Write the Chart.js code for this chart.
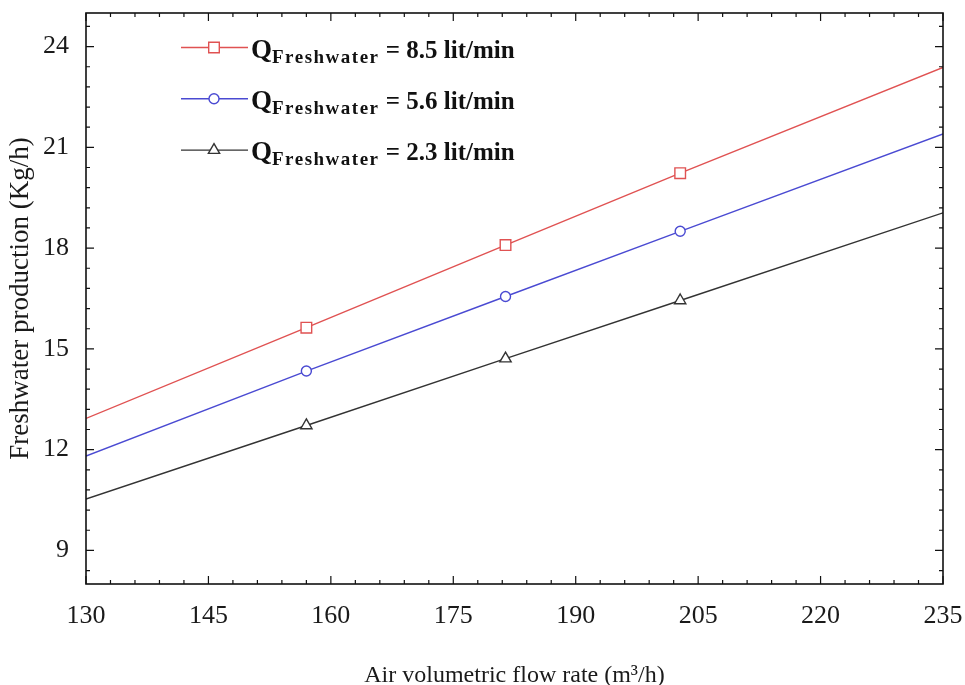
<!DOCTYPE html>
<html>
<head>
<meta charset="utf-8">
<title>Freshwater production vs air flow rate</title>
<script src="https://cdn.jsdelivr.net/npm/chart.js@4.4.1/dist/chart.umd.min.js"></script>
<style>
  html, body { margin: 0; padding: 0; background: #fff; }
</style>
</head>
<body>
<canvas id="chart" width="965" height="685"></canvas>
<script>
// air flow (m3/h) where the lines are sampled; markers sit on the middle three
const airFlow = [130, 157, 181.4, 202.8, 235];
const prod85 = [12.93, 15.63, 18.09, 20.23, 23.38];
const prod56 = [11.81, 14.34, 16.56, 18.50, 21.40];
const prod23 = [10.53, 12.72, 14.71, 16.44, 19.05];
const seriesLabels = ['8.5 lit/min', '5.6 lit/min', '2.3 lit/min'];
const xTicks = [130, 145, 160, 175, 190, 205, 220, 235];
const yTicks = [9, 12, 15, 18, 21, 24];

const serif = "'Liberation Serif', 'Times New Roman', serif";
const colors = ['#e05252', '#4a4ad2', '#333333'];
const markers = [['rect', 7.5], ['circle', 5], ['triangle', 6.5]];

function series(values, i) {
  const last = values.length - 1;
  return {
    label: seriesLabels[i],
    data: airFlow.map((x, k) => ({ x, y: values[k] })),
    borderColor: colors[i],
    borderWidth: 1.4,
    backgroundColor: '#fff',
    pointStyle: markers[i][0],
    pointRadius: values.map((v, k) => (k === 0 || k === last) ? 0 : markers[i][1]),
    pointBorderWidth: 1.4,
    pointBackgroundColor: '#fff',
    tension: 0
  };
}

// drop the extra room Chart.js keeps for edge tick labels
function noEdgePadding(s) {
  s.paddingLeft = s.paddingRight = s.paddingTop = s.paddingBottom = 0;
}

// box around the plot with inward ticks on all four sides
const frame = {
  id: 'frame',
  afterDatasetsDraw(chart) {
    const { ctx, chartArea: a, scales: { x, y } } = chart;
    ctx.save();
    ctx.strokeStyle = '#111';
    ctx.lineWidth = 1.2;
    ctx.beginPath();
    for (let k = 0; k <= 35; k++) {
      const px = x.getPixelForValue(130 + 3 * k);
      const len = k % 5 === 0 ? 8 : 4;
      ctx.moveTo(px, a.bottom); ctx.lineTo(px, a.bottom - len);
      ctx.moveTo(px, a.top); ctx.lineTo(px, a.top + len);
    }
    for (let k = -1; k <= 26; k++) {
      const py = y.getPixelForValue(9 + 0.6 * k);
      const len = k % 5 === 0 ? 8 : 4;
      ctx.moveTo(a.left, py); ctx.lineTo(a.left + len, py);
      ctx.moveTo(a.right, py); ctx.lineTo(a.right - len, py);
    }
    ctx.stroke();
    ctx.lineWidth = 1.6;
    ctx.strokeRect(a.left, a.top, a.right - a.left, a.bottom - a.top);
    ctx.restore();
  }
};

// legend with the subscripted Q label
const legendBox = {
  id: 'legendBox',
  afterDraw(chart) {
    const { ctx } = chart;
    chart.data.datasets.forEach((ds, i) => {
      const rowY = 47.5 + i * 51.3;
      ctx.save();
      ctx.strokeStyle = ds.borderColor;
      ctx.lineWidth = 1.4;
      ctx.beginPath();
      ctx.moveTo(181, rowY); ctx.lineTo(248, rowY);
      ctx.stroke();
      ctx.fillStyle = '#fff';
      Chart.helpers.drawPoint(ctx, {
        pointStyle: markers[i][0], radius: markers[i][1], rotation: 0, borderWidth: 1.4
      }, 214, rowY);

      ctx.fillStyle = '#111';
      ctx.textBaseline = 'alphabetic';
      let tx = 251;
      ctx.font = 'bold 27px ' + serif;
      ctx.fillText('Q', tx, rowY + 10);
      tx += ctx.measureText('Q').width;
      ctx.font = 'bold 19px ' + serif;
      ctx.letterSpacing = '1.5px';
      ctx.fillText('Freshwater', tx, rowY + 15);
      tx += ctx.measureText('Freshwater').width;
      ctx.letterSpacing = '0px';
      ctx.font = 'bold 25px ' + serif;
      ctx.fillText(' = ' + ds.label, tx, rowY + 10);
      ctx.restore();
    });
  }
};

new Chart(document.getElementById('chart'), {
  type: 'line',
  data: {
    datasets: [series(prod85, 0), series(prod56, 1), series(prod23, 2)]
  },
  options: {
    responsive: false,
    devicePixelRatio: 1,
    animation: false,
    layout: { padding: { top: 13, right: 22, left: 0, bottom: 0 } },
    plugins: {
      legend: { display: false },
      tooltip: { enabled: false }
    },
    scales: {
      x: {
        type: 'linear',
        min: 130,
        max: 235,
        afterBuildTicks: s => { s.ticks = xTicks.map(v => ({ value: v })); },
        afterFit: s => { s.height = 101; noEdgePadding(s); },
        grid: { display: false },
        border: { display: false },
        ticks: {
          font: { family: serif, size: 26 },
          color: '#1a1a1a',
          padding: 9,
          maxRotation: 0,
          autoSkip: false
        },
        title: {
          display: true,
          text: 'Air volumetric flow rate (m³/h)',
          font: { family: serif, size: 24 },
          color: '#1a1a1a',
          padding: { top: 0, bottom: -5 }
        }
      },
      y: {
        min: 8,
        max: 25,
        afterBuildTicks: s => { s.ticks = yTicks.map(v => ({ value: v })); },
        afterFit: s => { s.width = 86; noEdgePadding(s); },
        grid: { display: false },
        border: { display: false },
        ticks: {
          font: { family: serif, size: 26 },
          color: '#1a1a1a',
          padding: 9
        },
        title: {
          display: true,
          text: 'Freshwater production (Kg/h)',
          font: { family: serif, size: 27 },
          color: '#1a1a1a',
          padding: { top: 5, bottom: 0 }
        }
      }
    }
  },
  plugins: [frame, legendBox]
});
</script>
</body>
</html>
